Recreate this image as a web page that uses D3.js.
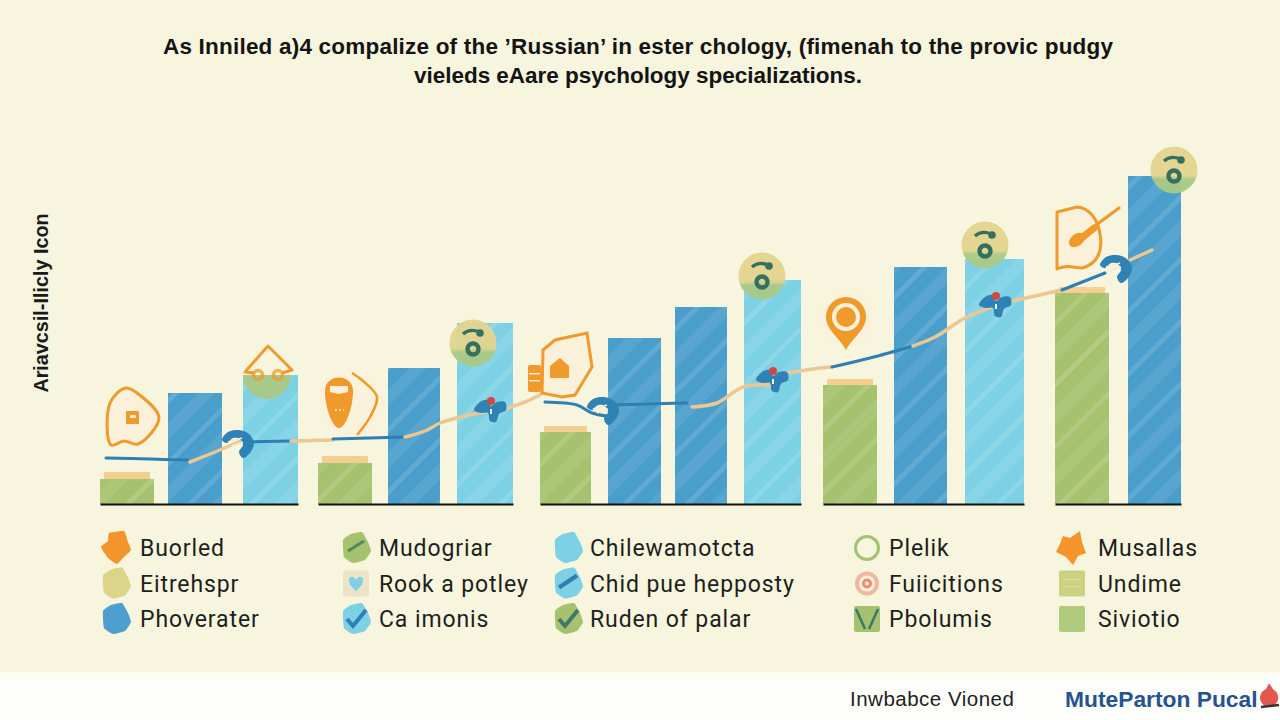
<!DOCTYPE html>
<html><head><meta charset="utf-8">
<script src="https://cdn.jsdelivr.net/npm/d3@7"></script>
<style>html,body{margin:0;padding:0;background:#f7f5dd}svg{display:block}</style>
</head><body><svg id="c" width="1280" height="720"></svg>
<script>
// ---------- data ----------
const titleLines = ["As Inniled a)4 compalize of the \u2019Russian\u2019 in ester chology, (fimenah to the provic pudgy","vieleds eAare psychology specializations."];
const yLabel = "Ariavcsil-Ilicly Icon";
const groupNames = ["A","B","C","D","E"];
const barGroups = ["A","A","A","B","B","B","C","C","C","C","D","D","D","E","E"];
const barNames = ["Buorled","Eitrehspr","Phoverater","Mudogriar","Rook a potley","Ca imonis","Chilewamotcta","Chid pue hepposty","Ruden of palar","Plelik","Fuiicitions","Pbolumis","Musallas","Undime","Siviotio"];
const barKinds = ["green","blue","cyan","green","blue","cyan","green","blue","blue","cyan","green","blue","cyan","green","blue"];
const barValues = [25,111,129,41,136,181,72,166,197,224,119,237,245,211,328];
const capValues = [7,0,0,7,0,0,6,0,0,0,6,0,0,6,0];
const trendKinds = ["blue","tan","blue","tan","blue","tan","tan","blue","blue","tan","tan","blue","tan","tan","blue","tan"];
const trendXs = [[6,50,88],[90,115,143],[143,190],[191,233],[233,305],[305,325,340,365,387],[395,407,425,440],[445,477,492,507],[505,550,587],[592,617,643,670],[687,720,732],[732,770,813],[813,835,865,890],[908,935,962],[962,1005],[1030,1052]];
const trendYs = [[46,45,44],[42,52,64],[62,63],[63,64],[65,67],[67,73,81,88,92],[94,96,102,109],[102,99,91,88],[99,100,101],[97,101,117,119],[131,136,137],[137,146,158],[158,167,186,196],[202,208,214],[214,231],[244,254]];
const knotKinds = ["wrench","moth","wrench","moth","moth","wrench"];
const knotXs = [140,391,505,673,896,1018];
const knotYs = [61,96,94,126,201,236];
const legendLabels = [["Buorled","Eitrehspr","Phoverater"],["Mudogriar","Rook a potley","Ca imonis"],["Chilewamotcta","Chid pue hepposty","Ruden of palar"],["Plelik","Fuiicitions","Pbolumis"],["Musallas","Undime","Siviotio"]];
const legendMarks = [["blobOrange","blobSand","blobBlue"],["blobGreenDash","tileHeart","blobCyanCheck"],["blobCyan","blobCyanDash","blobGreenCheck"],["ringGreen","ringSalmon","tileV"],["starOrange","tileLines","tileGreen"]];
const footerNote = "Inwbabce Vioned";
const footerBrand = "MuteParton Pucal";

// ---------- layout & style ----------
const C = {green:"#a6c26f",blue:"#4a9ecc",cyan:"#7dd1e4",cap:"#f5cf92",orange:"#ef9a2a",tan:"#ecc793",line:"#2f7fb2",pale:"#fbf0d9",teal:"#35705f",ink:"#1e1e1e"};
const svg = d3.select("#c");
const defs = svg.append("defs");
const BASE = 504;
const y = d3.scaleLinear().domain([0,350]).range([BASE,BASE-350]);
const groupExtents = {A:[100,298],B:[318,513],C:[540,801],D:[823,1024],E:[1055,1181]};
const trendX = d3.scaleLinear().domain([0,1081]).range([100,1181]);
const barLeft = d3.scaleOrdinal(barNames,[100,168,243,318,388,457,540,608,675,744,823,894,965,1055,1128]);
const barWidth = d3.scaleOrdinal(barNames,[54,54,55,54,52,56,51,53,52,57,54,53,59,54,53]);
const axisScale = g=>d3.scaleLinear().domain([0,1]).range(groupExtents[g]);
svg.append("rect").attr("width",1280).attr("height",720).attr("fill","#f7f5dd");
const fg = defs.append("linearGradient").attr("id","foot").attr("x1",0).attr("x2",0).attr("y1",0).attr("y2",1);
fg.append("stop").attr("offset",0).attr("stop-color","#fbfbf3");
fg.append("stop").attr("offset",0.3).attr("stop-color","#fefefc");
svg.append("rect").attr("y",672).attr("width",1280).attr("height",48).attr("fill","url(#foot)");

// hatch
const hatch = defs.append("pattern").attr("id","hatch").attr("patternUnits","userSpaceOnUse").attr("width",44).attr("height",44).attr("patternTransform","rotate(45)");
hatch.append("rect").attr("x",4).attr("width",5).attr("height",44).attr("fill","#fff").attr("opacity",0.13);
hatch.append("rect").attr("x",22).attr("width",12).attr("height",44).attr("fill","#fff").attr("opacity",0.08);

// title
svg.append("g").selectAll("text").data(titleLines).join("text")
  .attr("x",638).attr("y",(d,i)=>53.5+i*29.5).attr("text-anchor","middle")
  .attr("textLength",(d,i)=>i===0?950:448).attr("lengthAdjust","spacing")
  .attr("font-family","'Liberation Sans',Arial,sans-serif").attr("font-weight",700).attr("font-size",22.5).attr("fill","#141414").text(d=>d);
svg.append("text").attr("transform","translate(48,303) rotate(-90)").attr("text-anchor","middle")
  .attr("font-family","'Liberation Sans',Arial,sans-serif").attr("font-weight",700).attr("font-size",19.8).attr("fill","#1a1a1a").text(yLabel);

// bars
const barData = barNames.map((n,i)=>({n,g:barGroups[i],k:barKinds[i],v:barValues[i],cap:capValues[i]}));
const barsG = svg.append("g");
const bx = d=>barLeft(d.n), bw = d=>barWidth(d.n);
barsG.selectAll(".cap").data(barData.filter(d=>d.cap>0)).join("rect").attr("class","cap")
  .attr("x",d=>bx(d)+4).attr("width",d=>bw(d)-8).attr("y",d=>y(d.v+d.cap)).attr("height",d=>y(d.v)-y(d.v+d.cap)).attr("fill",C.cap);
barsG.selectAll(".b").data(barData).join("rect").attr("class","b")
  .attr("x",bx).attr("width",bw).attr("y",d=>y(d.v)).attr("height",d=>BASE-y(d.v)).attr("fill",d=>C[d.k]);
barsG.selectAll(".h").data(barData).join("rect").attr("class","h")
  .attr("x",bx).attr("width",bw).attr("y",d=>y(d.v)).attr("height",d=>BASE-y(d.v)).attr("fill","url(#hatch)");

// baselines through axes
groupNames.forEach(g=>{
  const ax = svg.append("g").attr("transform",`translate(0,${BASE})`).call(d3.axisBottom(axisScale(g)).tickValues([]).tickSizeOuter(0));
  ax.select(".domain").attr("stroke","#111").attr("stroke-width",2);
});

// trend
const lineGen = d3.line().x(d=>trendX(d[0])).y(d=>y(d[1])).curve(d3.curveCatmullRom.alpha(0.5));
trendKinds.forEach((k,i)=>{
  svg.append("path").attr("d",lineGen(d3.zip(trendXs[i],trendYs[i]))).attr("fill","none")
    .attr("stroke",k==="blue"?C.line:C.tan).attr("stroke-width",k==="blue"?3:3.5).attr("stroke-linecap","round");
});

// helpers
const closed = d3.line().curve(d3.curveCatmullRomClosed.alpha(0.5));
const chunky = d3.line().curve(d3.curveCardinalClosed.tension(0.6));
const sharp = d3.line().curve(d3.curveLinearClosed);
const open = d3.line().curve(d3.curveCatmullRom.alpha(0.5));
function at(px,py){return svg.append("g").attr("transform",`translate(${px},${py})`);}

// knots
const mothPts=[[-17,2],[-11,-6],[-4,-8],[0,-2],[6,-6],[14,-6],[15,2],[8,6],[5,14],[-1,13],[-3,5],[-10,5]];
const wrenchPts=[[-18,-3],[-12,-11],[-1,-13],[9,-9],[14,0],[10,10],[3,15],[-1,9],[3,2],[0,-4],[-7,-5],[-13,0]];
knotKinds.forEach((k,i)=>{
  const g=at(trendX(knotXs[i]),y(knotYs[i]));
  g.append("path").attr("d",closed(k==="moth"?mothPts:wrenchPts)).attr("fill","#2f82b5");
  if(k==="moth"){
    g.append("circle").attr("cy",-7).attr("r",4).attr("fill","#d2473f");
    g.append("rect").attr("x",-1).attr("y",1).attr("width",2).attr("height",5).attr("fill","#e9f6f6");
  } else {
    g.append("path").attr("d","M-12,-1L2,-5M-8,3L3,-1").attr("stroke","#f3ecd2").attr("stroke-width",1.6).attr("fill","none");
  }
});

// icons
const O = C.orange;
// shield A
{ const g=at(133,417);
  g.append("path").attr("d",closed([[-23,-14],[-7,-29],[8,-21],[26,1],[5,27],[-9,24],[-22,28]])).attr("fill",C.pale).attr("stroke",O).attr("stroke-width",3);
  g.append("rect").attr("x",-7).attr("y",-6).attr("width",13).attr("height",13).attr("rx",1).attr("fill",O);
  g.append("rect").attr("x",-3).attr("y",-2).attr("width",6).attr("height",3).attr("rx",1).attr("fill",C.pale);
}
// diamond B
{ const g=at(268,372);
  g.append("path").attr("d",d3.arc()({innerRadius:0,outerRadius:24,startAngle:Math.PI/2,endAngle:3*Math.PI/2})).attr("fill","#a9c98b").attr("transform","translate(-1,3)");
  g.append("path").attr("d","M-14,1L-23,0L0,-26L24,-2L14,1").attr("fill","none").attr("stroke",O).attr("stroke-width",3).attr("stroke-linejoin","round");
  [-10,10].forEach(dx=>g.append("circle").attr("cx",dx).attr("cy",3).attr("r",4.5).attr("fill","none").attr("stroke",O).attr("stroke-width",3.4).attr("opacity",.75));
}
// oval
{ const g=at(339,403);
  g.append("circle").attr("cx",12).attr("cy",0).attr("r",34).attr("fill",C.pale).attr("opacity",.6);
  g.append("path").attr("d","M-14,-12C-14,-30 14,-30 14,-12C14,6 6,25 0,25C-6,25 -14,6 -14,-12Z").attr("fill",O);
  g.append("path").attr("d","M-9,-17L9,-17L9,-11L0,-9L-9,-11Z").attr("fill",C.pale);
  g.append("path").attr("d","M-4,7L5,7").attr("stroke",C.pale).attr("stroke-width",1.5).attr("stroke-dasharray","2 2");
  g.append("path").attr("d",open([[13,-30],[24,-22],[38,-6],[31,14],[18,32]])).attr("fill","none").attr("stroke",O).attr("stroke-width",2.6);
}
// house shield C
{ const g=at(560,368);
  g.append("path").attr("d",sharp([[-17,-18],[-5,-28],[27,-35],[32,-1],[15,27],[2,29],[-18,25]])).attr("fill",C.pale).attr("stroke",O).attr("stroke-width",3);
  g.append("path").attr("d",sharp([[-10,-2],[0,-10],[9,-2],[9,10],[-10,10]])).attr("fill",O);
  g.append("rect").attr("x",-32).attr("y",-3).attr("width",13).attr("height",27).attr("rx",2).attr("fill",O);
  [5,12].forEach(dy=>g.append("rect").attr("x",-31).attr("y",dy).attr("width",11).attr("height",1.4).attr("fill",C.pale));
}
// pin
{ const g=at(846,317);
  g.append("circle").attr("r",31).attr("fill",C.pale).attr("opacity",.55);
  g.append("path").attr("d","M0,33C-7,20 -20,13 -20,0A20,20 0 1 1 20,0C20,13 7,20 0,33Z").attr("fill",O);
  g.append("circle").attr("r",14).attr("fill",C.pale);
  g.append("circle").attr("r",10).attr("fill",O);
}
// D with brush
{ const g=at(1080,238);
  g.append("path").attr("d","M-23,-26L-3,-31C10,-30 18,-18 20,-4C23,12 18,26 2,30C-6,30 -12,26 -23,31Z").attr("fill",C.pale).attr("stroke",O).attr("stroke-width",3).attr("stroke-linejoin","round");
  g.append("path").attr("d","M39,-30L4,-4").attr("stroke",O).attr("stroke-width",3.2).attr("stroke-linecap","round");
  g.append("path").attr("d","M14,-10L-2,3").attr("stroke",O).attr("stroke-width",7).attr("stroke-linecap","round");
  g.append("ellipse").attr("cx",-3).attr("cy",2).attr("rx",9).attr("ry",6).attr("transform","rotate(-35 -3 2)").attr("fill",O);
}
// badges
const bg = defs.append("linearGradient").attr("id","badge").attr("x1",0).attr("x2",0).attr("y1",0).attr("y2",1);
[[0,"#e4d48f"],[.62,"#e2d48e"],[.7,"#a9c985"],[1,"#a9c985"]].forEach(s=>bg.append("stop").attr("offset",s[0]).attr("stop-color",s[1]));
[[473,343],[762,276],[985,245],[1174,170]].forEach(p=>{
  const g=at(p[0],p[1]);
  g.append("circle").attr("r",23.5).attr("fill","url(#badge)").attr("opacity",.95);
  g.append("path").attr("d","M-10,-9Q-3,-15 6,-11").attr("fill","none").attr("stroke",C.teal).attr("stroke-width",3.4);
  g.append("circle").attr("cx",7).attr("cy",-10).attr("r",3.8).attr("fill",C.teal);
  g.append("circle").attr("cy",6).attr("r",5.5).attr("fill","none").attr("stroke",C.teal).attr("stroke-width",4.4);
});

// legend
const blob=[[-15,-1],[-8,-7],[-7,-15],[8,-17],[12,-6],[15,2],[8,9],[1,16],[-8,10]];
const blobR=[[-13,-8],[-5,-14],[6,-16],[12,-6],[15,3],[9,12],[-3,15],[-12,9]];
const star=[[-16,4],[-12,-4],[-9,-12],[-2,-10],[8,-17],[10,-6],[14,5],[6,8],[1,17],[-6,9]];
const check=(g,col,w)=>g.append("path").attr("d","M-9,0L-3,7L10,-9").attr("fill","none").attr("stroke",col).attr("stroke-width",w||4);
const dash=(g,col)=>g.append("path").attr("d","M-8,3L8,-7").attr("fill","none").attr("stroke",col).attr("stroke-width",3.2);
const tile=(g,col)=>g.append("rect").attr("x",-13).attr("y",-13).attr("width",26).attr("height",26).attr("rx",2).attr("fill",col);
const draw = {
  blobOrange:g=>g.append("path").attr("d",chunky(blob)).attr("fill","#f3952a"),
  blobSand:g=>g.append("path").attr("d",chunky(blobR)).attr("fill","#dcd488"),
  blobBlue:g=>g.append("path").attr("d",chunky(blobR)).attr("fill","#4c9fcf"),
  blobGreenDash:g=>{g.append("path").attr("d",chunky(blobR)).attr("fill",C.green);dash(g,"#4f8a5c");},
  tileHeart:g=>{tile(g,"#ebe4c6");g.append("path").attr("d","M-7,-4C-5,-9 -1,-6 0,-3C1,-6 6,-9 7,-4C8,1 2,5 0,8C-2,5 -8,1 -7,-4Z").attr("fill",C.cyan);},
  blobCyanCheck:g=>{g.append("path").attr("d",chunky(blobR)).attr("fill",C.cyan);check(g,"#2f7fb2");},
  blobCyan:g=>g.append("path").attr("d",chunky(blobR)).attr("fill",C.cyan),
  blobCyanDash:g=>{g.append("path").attr("d",chunky(blobR)).attr("fill",C.cyan);g.append("path").attr("d","M-9,4L9,-8").attr("stroke","#2f7fb2").attr("stroke-width",4.5);},
  blobGreenCheck:g=>{g.append("path").attr("d",chunky(blobR)).attr("fill",C.green);check(g,"#3d7a68");},
  ringGreen:g=>g.append("circle").attr("r",11.5).attr("fill","none").attr("stroke",C.green).attr("stroke-width",3),
  ringSalmon:g=>{g.append("circle").attr("r",12).attr("fill","#f0b7a0");g.append("circle").attr("r",8).attr("fill",C.pale);g.append("circle").attr("r",5).attr("fill","#ea8d74");g.append("circle").attr("r",2).attr("fill",C.pale);},
  tileV:g=>{tile(g,C.green);g.append("path").attr("d","M-11,-10L-2,10M11,-10L2,10").attr("stroke","#3d7a68").attr("stroke-width",2.6);},
  starOrange:g=>g.append("path").attr("d",sharp(star)).attr("fill","#f3952a"),
  tileLines:g=>{tile(g,"#c9d37f");g.append("path").attr("d","M-9,-4L9,-4M-9,3L9,3").attr("stroke","#dcdc9a").attr("stroke-width",1.5);},
  tileGreen:g=>tile(g,"#b1cb7c")
};
const legendTextX=[140,379,590,889,1098], legendMarkX=[116,356,568,867,1072];
const rowY=d3.scalePoint().domain([0,1,2]).range([548,619]);
legendLabels.forEach((col,ci)=>col.forEach((lab,ri)=>{
  draw[legendMarks[ci][ri]](at(legendMarkX[ci],rowY(ri)));
  svg.append("text").attr("x",legendTextX[ci]).attr("y",rowY(ri)+8)
    .attr("font-family","Roboto,sans-serif").attr("font-size",23).attr("letter-spacing",0.9).attr("fill",C.ink).text(lab);
}));

// footer
svg.append("text").attr("x",850).attr("y",706).attr("font-family","'Liberation Sans',sans-serif").attr("font-size",20.5).attr("letter-spacing",0.5).attr("fill","#222").text(footerNote);
svg.append("text").attr("x",1065).attr("y",706.5).attr("font-family","'Liberation Sans',sans-serif").attr("font-weight",700).attr("font-size",22.8).attr("fill","#24538f").text(footerBrand);
{ const g=at(1269,697);
  g.append("path").attr("d",closed([[-9,2],[-7,-5],[-3,-8],[0,-13],[4,-8],[8,-4],[9,3],[4,9],[-4,9]])).attr("fill","#e4574c");
  g.append("path").attr("d","M-8,10L10,8").attr("stroke","#333").attr("stroke-width",2.6);
}
</script></body></html>
